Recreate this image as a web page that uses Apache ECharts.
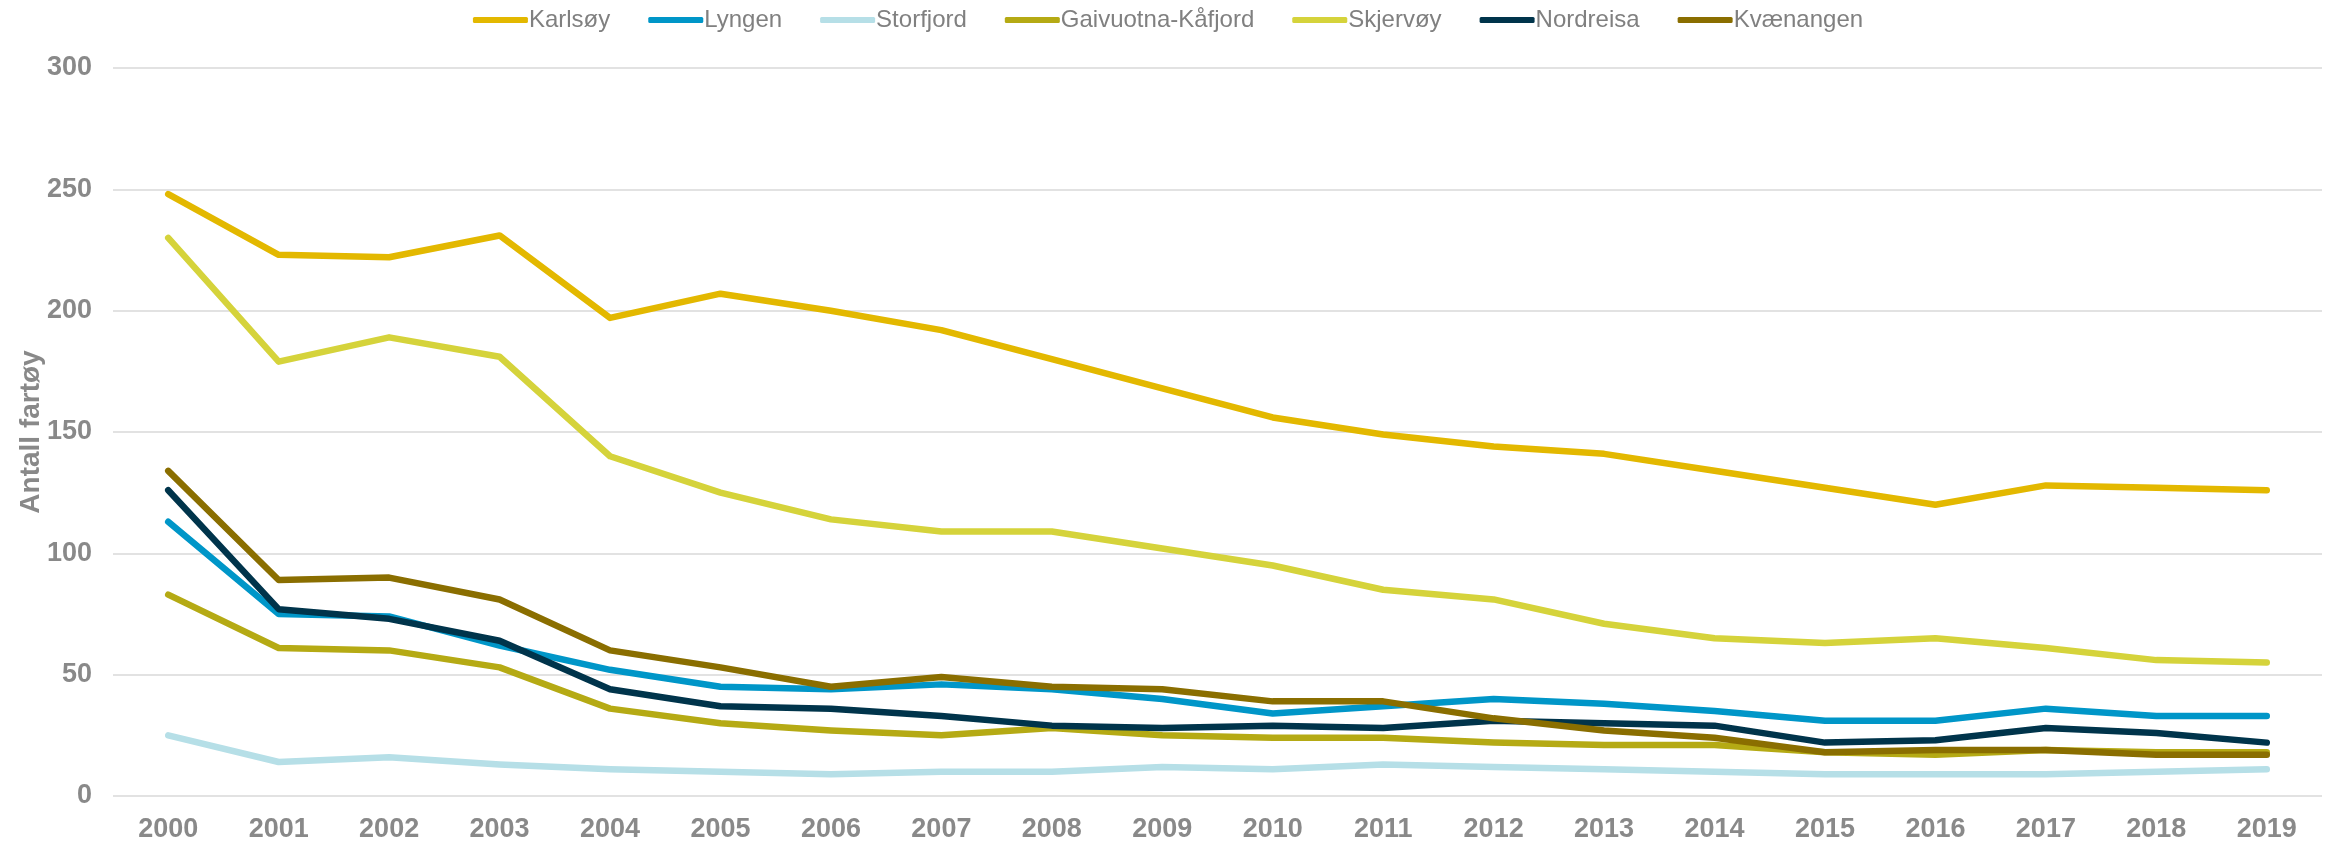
<!DOCTYPE html>
<html>
<head>
<meta charset="utf-8">
<script src="https://cdn.jsdelivr.net/npm/echarts@6/dist/echarts.min.js"></script>
<style>
  html, body { margin: 0; padding: 0; background: #fff; }
  #chart { width: 2336px; height: 843px; }
</style>
</head>
<body>
<div id="chart"></div>
<script>
var years = ['2000', '2001', '2002', '2003', '2004', '2005', '2006', '2007', '2008', '2009',
  '2010', '2011', '2012', '2013', '2014', '2015', '2016', '2017', '2018', '2019']

var karlsoy = [248, 223, 222, 231, 197, 207, 200, 192, 180, 168, 156, 149, 144, 141, 134, 127, 120, 128, 127, 126]
var lyngen = [113, 75, 74, 62, 52, 45, 44, 46, 44, 40, 34, 37, 40, 38, 35, 31, 31, 36, 33, 33]
var storfjord = [25, 14, 16, 13, 11, 10, 9, 10, 10, 12, 11, 13, 12, 11, 10, 9, 9, 9, 10, 11]
var gaivuotna = [83, 61, 60, 53, 36, 30, 27, 25, 28, 25, 24, 24, 22, 21, 21, 18, 17, 19, 18, 18]
var skjervoy = [230, 179, 189, 181, 140, 125, 114, 109, 109, 102, 95, 85, 81, 71, 65, 63, 65, 61, 56, 55]
var nordreisa = [126, 77, 73, 64, 44, 37, 36, 33, 29, 28, 29, 28, 31, 30, 29, 22, 23, 28, 26, 22]
var kvaenangen = [134, 89, 90, 81, 60, 53, 45, 49, 45, 44, 39, 39, 32, 27, 24, 18, 19, 19, 17, 17]

var names = ['Karlsøy', 'Lyngen', 'Storfjord', 'Gaivuotna-Kåfjord', 'Skjervøy', 'Nordreisa', 'Kvænangen']
var colors = ['#E3B800', '#0096C8', '#B6DFE7', '#B5AA14', '#D5D33B', '#00344B', '#8A6E00']
var values = [karlsoy, lyngen, storfjord, gaivuotna, skjervoy, nordreisa, kvaenangen]

var tickFont = {
  color: '#898989',
  fontFamily: 'Liberation Sans',
  fontWeight: 'bold',
  fontSize: 27
}

var series = names.map(function (name, i) {
  return {
    name: name,
    type: 'line',
    data: values[i],
    showSymbol: false,
    symbol: 'none',
    smooth: false,
    lineStyle: { width: 6.5, color: colors[i], cap: 'round', join: 'round' },
    itemStyle: { color: colors[i] }
  }
})

var chart = echarts.init(document.getElementById('chart'))
chart.setOption({
  animation: false,
  backgroundColor: '#fff',
  legend: {
    data: names,
    top: 3,
    left: 'center',
    icon: 'roundRect',
    itemWidth: 55,
    itemHeight: 6,
    itemGap: 38,
    textStyle: {
      color: '#808080',
      fontFamily: 'Liberation Sans',
      fontSize: 24,
      padding: [0, 0, 0, -4]
    }
  },
  grid: {
    left: 113,
    right: 14,
    top: 68,
    bottom: 47,
    containLabel: false
  },
  xAxis: {
    type: 'category',
    data: years,
    boundaryGap: true,
    axisLine: { show: false },
    axisTick: { show: false },
    axisLabel: Object.assign({ margin: 20 }, tickFont)
  },
  yAxis: {
    type: 'value',
    min: 0,
    max: 300,
    interval: 50,
    name: 'Antall fartøy',
    nameLocation: 'middle',
    nameRotate: 90,
    nameGap: 68,
    nameMoveOverlap: false,
    nameTextStyle: {
      color: '#898989',
      fontFamily: 'Liberation Sans',
      fontWeight: 'bold',
      fontSize: 28
    },
    axisLine: { show: false },
    axisTick: { show: false },
    axisLabel: Object.assign({ margin: 21 }, tickFont),
    splitLine: { lineStyle: { color: '#E2E2E2', width: 2 } }
  },
  series: series
})
</script>
</body>
</html>
